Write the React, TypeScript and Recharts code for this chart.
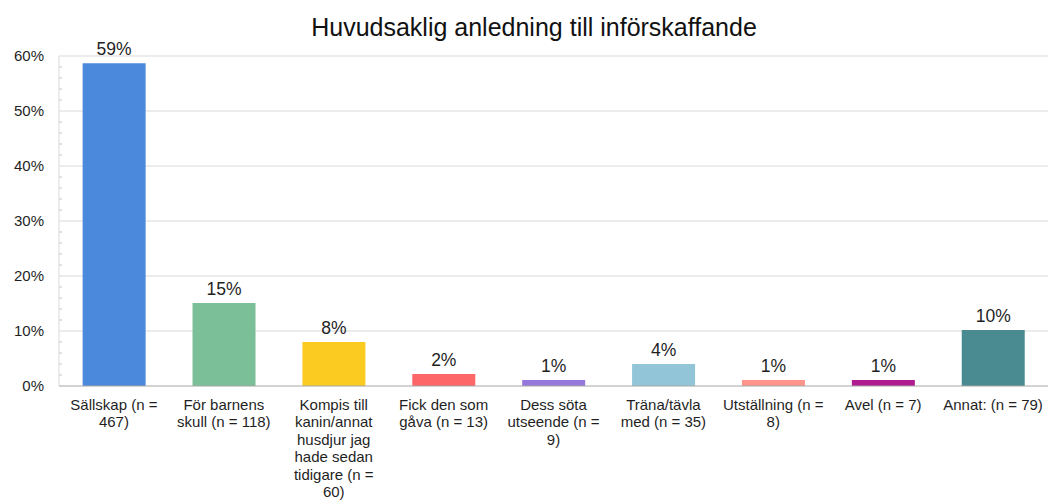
import React from 'react';
import { BarChart, Bar, XAxis, YAxis, CartesianGrid, Cell, LabelList } from 'recharts';

const categories: string[] = [
  'Sällskap (n =\n467)',
  'För barnens\nskull (n = 118)',
  'Kompis till\nkanin/annat\nhusdjur jag\nhade sedan\ntidigare (n =\n60)',
  'Fick den som\ngåva (n = 13)',
  'Dess söta\nutseende (n =\n9)',
  'Träna/tävla\nmed (n = 35)',
  'Utställning (n =\n8)',
  'Avel (n = 7)',
  'Annat: (n = 79)',
];
const values: number[] = [58.7, 15.1, 8.0, 2.2, 1.1, 4.0, 1.1, 1.1, 10.2];
const colors: string[] = [
  '#4a89dc', '#7bbf99', '#fccb22', '#fe6767', '#9678dc',
  '#92c5d8', '#ff958a', '#b01c90', '#4a8a91',
];
const yTicks: number[] = [0, 2, 4, 6, 8, 10, 12, 14, 16, 18, 20, 22, 24, 26, 28, 30, 32, 34, 36, 38, 40, 42, 44, 46, 48, 50, 52, 54, 56, 58, 60];
const yGridValues: number[] = [10, 20, 30, 40, 50, 60];
const title = 'Huvudsaklig anledning till införskaffande';

const data = categories.map((name, i) => ({ name, value: values[i] }));

const FONT = '"Liberation Sans", Arial, sans-serif';

const YTick = (props: any) => {
  const { x, y, payload } = props;
  const major = payload.value % 10 === 0;
  const ax = x + 15;
  return (
    <g>
      {!major && <line x1={ax} x2={ax + 3} y1={y} y2={y} stroke="#c8c8c8" />}
      {major && (
        <text x={x} y={y} dy="0.36em" textAnchor="end" fontSize={15} fill="#1f1f1f" fontFamily={FONT}>
          {payload.value}%
        </text>
      )}
    </g>
  );
};

const XTick = (props: any) => {
  const { x, y, payload } = props;
  const lines = String(payload.value).split('\n');
  return (
    <text x={x} y={y} textAnchor="middle" fontSize={15} fill="#1f1f1f" fontFamily={FONT}>
      {lines.map((l, i) => (
        <tspan key={i} x={x} y={y + 16 + i * 17.4}>
          {l}
        </tspan>
      ))}
    </text>
  );
};

export default function App() {
  return (
    <div style={{ position: 'absolute', left: 0, top: 0, width: 1048, height: 504, background: '#fff', overflow: 'hidden' }}>
      <div
        style={{
          position: 'absolute',
          left: 534,
          top: 15,
          transform: 'translateX(-50%)',
          whiteSpace: 'nowrap',
          fontFamily: FONT,
          fontSize: 25,
          lineHeight: '25px',
          color: '#111',
        }}
      >
        {title}
      </div>
      <BarChart
        width={1048}
        height={504}
        data={data}
        margin={{ top: 56, right: 0, bottom: 0, left: 0 }}
        barCategoryGap="21.5%"
      >
        <CartesianGrid vertical={false} horizontalValues={yGridValues} stroke="#d9d9d9" />
        <XAxis
          dataKey="name"
          height={118}
          interval={0}
          tickLine={false}
          tickSize={0}
          tickMargin={8}
          axisLine={{ stroke: '#a6a6a6' }}
          tick={<XTick />}
        />
        <YAxis
          width={59}
          domain={[0, 60]}
          ticks={yTicks}
          interval={0}
          tickLine={false}
          tickSize={0}
          tickMargin={15}
          axisLine={{ stroke: '#d9d9d9' }}
          tick={<YTick />}
        />
        <Bar dataKey="value" isAnimationActive={false}>
          {data.map((_, i) => (
            <Cell key={i} fill={colors[i]} />
          ))}
          <LabelList
            dataKey="value"
            position="top"
            offset={8}
            formatter={(v: any) => `${Math.round(Number(v))}%`}
            style={{ fontSize: 17.5, fill: '#1f1f1f', fontFamily: FONT }}
          />
        </Bar>
      </BarChart>
    </div>
  );
}
